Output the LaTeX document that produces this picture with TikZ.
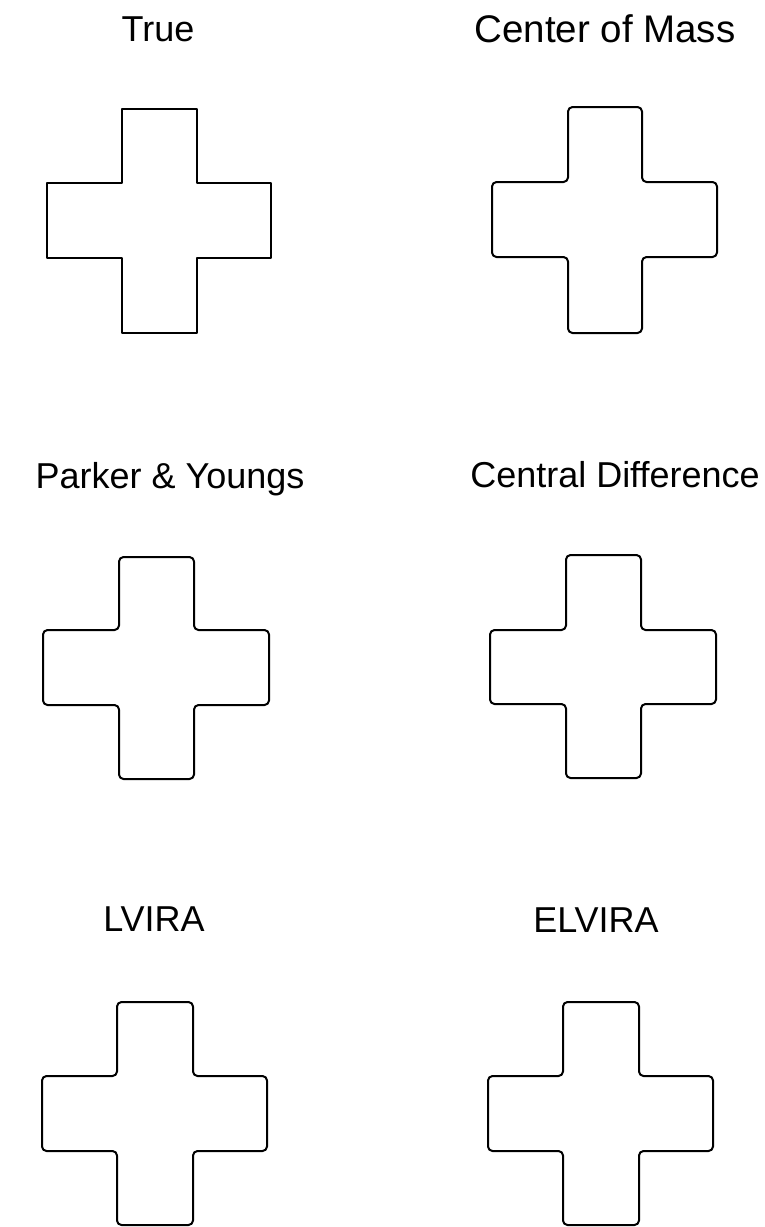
\documentclass[tikz,border=0pt]{standalone}
\usepackage{fontspec}
\setmainfont{Liberation Sans}
\begin{document}
\begin{tikzpicture}[x=1pt,y=-1pt,
  lbl/.style={anchor=base,inner sep=0pt,font=\fontsize{36}{40}\selectfont},
  crossline/.style={draw=black,line width=2pt,line join=round},
  roundcross/.style={crossline,rounded corners=4.5pt}]
\useasboundingbox (0,0) rectangle (765,1227);
% #1 style, x1..x4, y1..y4
\newcommand{\mycross}[9]{%
  \path[#1] ({(#3+#4)/2},#6) -- (#4,#6) -- (#4,#7) -- (#5,#7) -- (#5,#8) -- (#4,#8)
    -- (#4,#9) -- (#3,#9) -- (#3,#8) -- (#2,#8) -- (#2,#7) -- (#3,#7) -- (#3,#6) -- cycle;}
% labels
\node[lbl] (ltrue) at (158,41) {True};
\node[lbl,font=\fontsize{38.5}{42}\selectfont] (lcom) at (605,42) {Center of Mass};
\node[lbl] (lpy) at (170,488) {Parker \& Youngs};
\node[lbl] (lcd) at (615,487) {Central Difference};
\node[lbl] (llv) at (154,931) {LVIRA};
\node[lbl] (lel) at (596,932) {ELVIRA};
% crosses
\mycross{crossline}{47}{122}{197}{271}{109}{183}{258}{333}
\mycross{roundcross}{492}{568}{642}{717}{107}{182}{257}{333}
\mycross{roundcross}{43}{119}{194}{269}{557}{630}{705}{779}
\mycross{roundcross}{490}{566}{641}{716}{555}{630}{704}{778}
\mycross{roundcross}{42}{117}{193}{267}{1002}{1076}{1151}{1225}
\mycross{roundcross}{488}{563}{639}{713}{1002}{1076}{1151}{1225}
\end{tikzpicture}
\end{document}
